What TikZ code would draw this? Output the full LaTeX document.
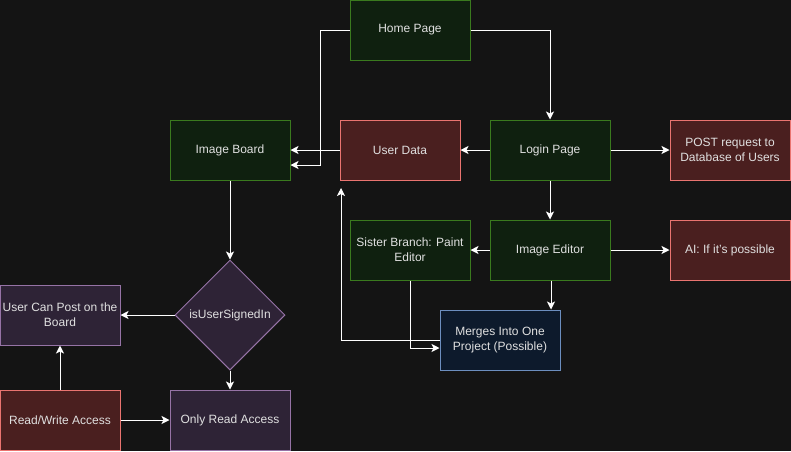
\documentclass[tikz,border=0pt]{standalone}
\usepackage{fontspec}
\setmainfont{Liberation Sans}
\usetikzlibrary{shapes.geometric,arrows.meta}
\definecolor{bgc}{HTML}{141414}
\definecolor{gfill}{HTML}{0F200F}
\definecolor{gline}{HTML}{3A7A1E}
\definecolor{rfill}{HTML}{4A1F1F}
\definecolor{rline}{HTML}{EA7470}
\definecolor{pfill}{HTML}{2E2336}
\definecolor{pline}{HTML}{9673A6}
\definecolor{bfill}{HTML}{0D1A2C}
\definecolor{bline}{HTML}{6C8EBF}
\definecolor{txt}{HTML}{E0E0E0}
\tikzset{
  x=1pt,y=-1pt,
  box/.style={rectangle,minimum width=120pt,minimum height=60pt,inner sep=0pt,line width=1pt,align=center,font=\fontsize{12pt}{15pt}\selectfont,text=txt},
  gbox/.style={box,fill=gfill,draw=gline},
  rbox/.style={box,fill=rfill,draw=rline},
  pbox/.style={box,fill=pfill,draw=pline},
  bbox/.style={box,fill=bfill,draw=bline},
  conn/.style={draw=white,line width=1pt,-{Stealth[length=8pt,width=8pt,inset=2pt,fill=white]}},
}
\begin{document}
\begin{tikzpicture}
\fill[bgc] (0,0) rectangle (791,451);
\useasboundingbox (0,0) rectangle (791,451);
\node[gbox] (home) at (410,30) {Home Page};
\node[gbox] (board) at (230,150) {Image Board};
\node[rbox] (udata) at (400,150) {User Data};
\node[gbox] (login) at (550,150) {Login Page};
\node[rbox] (post) at (730,150) {POST request to\\Database of Users};
\node[gbox] (sister) at (410,250) {Sister Branch: Paint\\Editor};
\node[gbox] (editor) at (550,250) {Image Editor};
\node[rbox] (ai) at (730,250) {AI: If it's possible};
\node[bbox] (merge) at (500,340) {Merges Into One\\Project (Possible)};
\node[diamond,aspect=1,minimum width=110pt,minimum height=110pt,inner sep=0pt,fill=pfill,draw=pline,line width=1pt,text=txt,font=\fontsize{12pt}{15pt}\selectfont] (sign) at (230,315) {isUserSignedIn};
\node[pbox] (canpost) at (60,315) {User Can Post on the\\Board};
\node[rbox] (rw) at (60,420) {Read/Write Access};
\node[pbox] (ronly) at (230,420) {Only Read Access};
\coordinate (free) at (341,188);

\draw[conn] (home.west) -- (320,30) -- (320,165) -- (board.east |- 0,165);
\draw[conn] (home.east) -| (login.north);
\draw[conn] (udata.west) -- (board.east);
\draw[conn] (login.west) -- (udata.east);
\draw[conn] (login.east) -- (post.west);
\draw[conn] (login.south) -- (editor.north);
\draw[conn] (editor.west) -- (sister.east);
\draw[conn] (editor.east) -- (ai.west);
\draw[conn] (editor.south) ++(1,0) -- (merge.north -| 551,0);
\draw[conn] (sister.south) |- (merge.west |- 0,348);
\draw[conn] (merge.west |- 0,340) -| (free);
\draw[conn] (board.south) -- (sign.north);
\draw[conn] (sign.west) -- (canpost.east);
\draw[conn] (sign.south) -- (ronly.north);
\draw[conn] (rw.north) -- (canpost.south);
\draw[conn] (rw.east) -- (ronly.west);
\end{tikzpicture}
\end{document}
